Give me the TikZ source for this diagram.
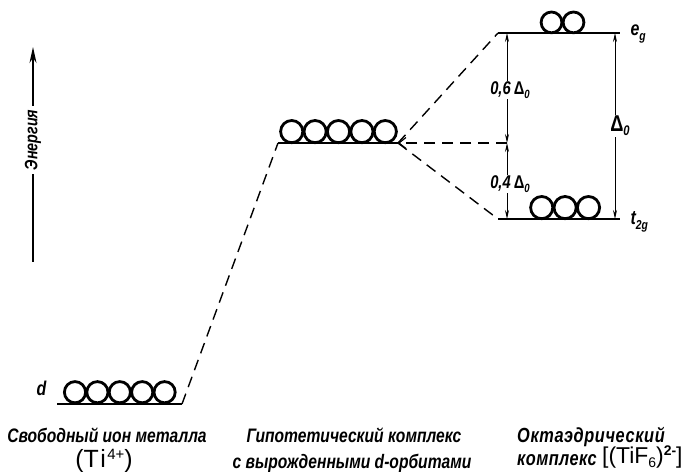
\documentclass[tikz,border=0pt]{standalone}
\usepackage{fontspec}
\setmainfont{Liberation Sans}
\newfontfamily\cond{Liberation Sans}[FakeStretch=0.8]
\usetikzlibrary{arrows.meta}
\newcommand\DOo[1]{{\bfseries\upshape Δ}\raisebox{-0.35ex}{\fontsize{#1}{#1}\selectfont\bfseries\itshape 0}}
\begin{document}
\begin{tikzpicture}[x=1bp,y=-1bp,
  levelline/.style={line width=2.6bp},
  orb/.style={line width=2.8bp},
  conn/.style={dash pattern=on 11bp off 7bp, line width=1.4bp},
  dimarrow/.style={line width=1bp,-{Stealth[length=9bp,width=4bp]}},
  lbl/.style={font=\cond\bfseries\itshape\fontsize{19.6}{21}\selectfont, inner sep=0pt, anchor=base},
  formula/.style={font=\rmfamily\fontsize{24}{24}\selectfont, inner sep=0pt, anchor=base},
  small/.style={font=\cond\bfseries\itshape\fontsize{18.5}{19}\selectfont, inner sep=1pt, fill=white}
]
\useasboundingbox (0,0) rectangle (684,472);
% level end points
\coordinate (dL) at (57,404); \coordinate (dR) at (182,404);
\coordinate (hL) at (278,143); \coordinate (hR) at (398,143);
\coordinate (eL) at (498,33);  \coordinate (eR) at (620,33);
\coordinate (tL) at (498,219); \coordinate (tR) at (620,219);
% levels
\draw[levelline] (dL) -- (dR);
\draw[levelline] (hL) -- (hR);
\draw[levelline] (eL) -- (eR);
\draw[levelline] (tL) -- (tR);
% orbitals
\foreach \i in {0,...,4} \draw[orb] (75+22.4*\i,392.2) circle (10.6bp);
\foreach \i in {0,...,4} \draw[orb] (291.7+23.4*\i,131.6) circle (11.1bp);
\foreach \i in {0,1} \draw[orb] (551.5+22*\i,22.4) circle (10.4bp);
\foreach \i in {0,...,2} \draw[orb] (541.7+23.4*\i,207.6) circle (11.1bp);
% level labels
\node[font=\cond\bfseries\itshape\fontsize{20}{20}\selectfont, anchor=base east] (dlab) at (50,395) {d};
\node[font=\cond\bfseries\itshape\fontsize{20}{20}\selectfont, anchor=base west] (eglab) at (627,36) {e\raisebox{-0.45ex}{\fontsize{13}{13}\selectfont g}};
\node[font=\cond\bfseries\itshape\fontsize{20}{20}\selectfont, anchor=base west] (tlab) at (627,225) {t\raisebox{-0.45ex}{\fontsize{13}{13}\selectfont 2g}};
% dashed connectors
\draw[conn] (dR) -- (hL);
\draw[conn] (hR) -- (eL);
\draw[conn] (hR) -- (tL);
\coordinate (mid) at (507,143);
\draw[conn,-{Straight Barb[length=7bp,width=11bp,line width=1.2bp]}] (mid) -- (hR);
% splitting arrows
\node[small] (l6) at (510,90) {0,6\,\DOo{12}};
\node[small] (l4) at (510,184) {0,4\,\DOo{12}};
\coordinate (eA) at (507,33); \coordinate (tA) at (507,219);
\draw[dimarrow] (l6.north -| eA) -- (eA);
\draw[dimarrow] (l6.south -| eA) -- (mid);
\draw[dimarrow] (l4.north -| eA) -- (mid);
\draw[dimarrow] (l4.south -| eA) -- (tA);
\coordinate (eB) at (615,33); \coordinate (tB) at (615,219);
\node[small, font=\cond\fontsize{23}{23}\selectfont] (lD) at (620,126) {\DOo{14}};
\draw[dimarrow] (lD.north -| eB) -- (eB);
\draw[dimarrow] (lD.south -| eB) -- (tB);
% energy axis
\node[rotate=90, font=\cond\bfseries\itshape\fontsize{18}{18}\selectfont, inner sep=4pt] (en) at (33,140) {Энергия};
\coordinate (enB) at (33,262); \coordinate (enT) at (33,47);
\draw[line width=1.6bp] (enB) -- (en.west);
\draw[line width=1.6bp,-{Stealth[length=16bp,width=7bp]}] (en.east) -- (enT);
% captions
\node[lbl] (c1) at (107,442) {Свободный ион металла};
\node[formula, font=\rmfamily\fontsize{25}{25}\selectfont] (c1b) at (104,467) {(T\kern1.5pt i\kern1.5pt\raisebox{0.6ex}{\fontsize{15}{15}\selectfont 4+})};
\node[lbl] (c2) at (354,442) {Гипотетический комплекс};
\node[lbl] (c2b) at (352,468) {с вырожденными d-орбитами};
\node[lbl, anchor=base west, font=\cond\bfseries\itshape\fontsize{20.5}{21}\selectfont\addfontfeature{LetterSpace=3}] (c3) at (517,442) {Октаэдрический};
\node[lbl, anchor=base west, font=\cond\bfseries\itshape\fontsize{20.5}{21}\selectfont\addfontfeature{LetterSpace=2}] (c3b) at (517,465) {комплекс};
\node[formula, anchor=base west, font=\rmfamily\fontsize{23}{23}\selectfont] (c3c) at (602,463) {[(TiF\raisebox{-0.4ex}{\fontsize{14}{14}\selectfont 6})\raisebox{0.6ex}{\fontsize{14}{14}\selectfont\bfseries 2-}]};
\end{tikzpicture}
\end{document}
